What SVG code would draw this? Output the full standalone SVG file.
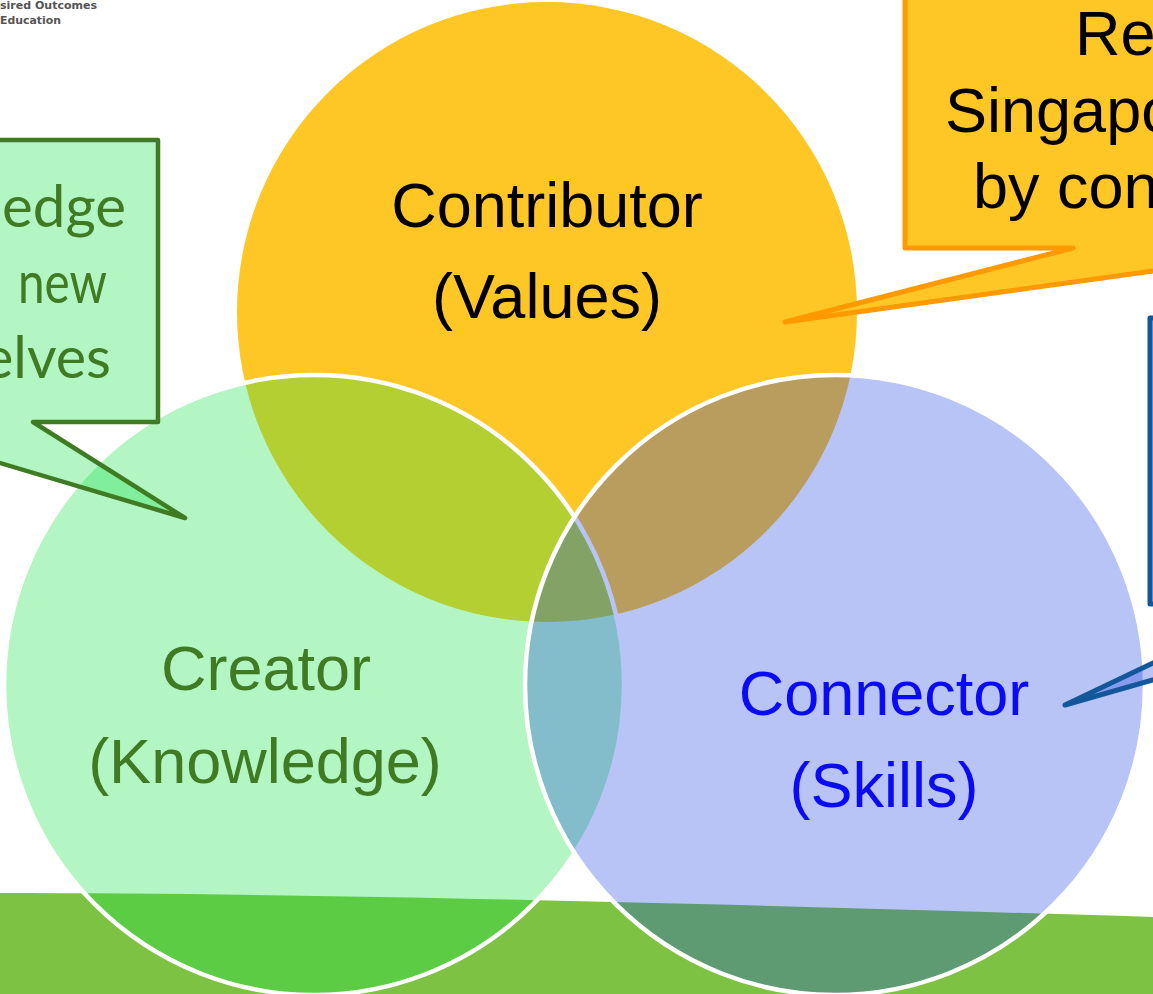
<svg xmlns="http://www.w3.org/2000/svg" width="1153" height="994" viewBox="0 0 1153 994">
  <style>
    .label { font-family: "Liberation Sans", Arial, sans-serif; font-size: 63px; text-anchor: middle; }
    .ring { stroke: #ffffff; stroke-width: 4.5; }
    .green-fill { fill: rgb(24,224,73); fill-opacity: 0.33; }
    .blue-fill { fill: rgb(26,65,222); fill-opacity: 0.31; }
    .yellow-fill { fill: #ffc726; }
    .callout-text-sans { font-family: "Liberation Sans", Arial, sans-serif; font-size: 63px; fill: #000000; }
    .callout-text-hum { font-family: Lato, "Open Sans", sans-serif; font-size: 58px; fill: #3e7b23; text-anchor: end; }
    .logo { font-family: "DejaVu Sans", Verdana, sans-serif; font-size: 11px; font-weight: bold; fill: #555555; }
  </style>

  <!-- page background -->
  <rect x="0" y="0" width="1153" height="994" fill="#ffffff"/>

  <!-- logo caption -->
  <g id="logo">
    <text class="logo" x="0" y="9" textLength="97" lengthAdjust="spacingAndGlyphs">sired Outcomes</text>
    <text class="logo" x="0" y="24" textLength="61" lengthAdjust="spacingAndGlyphs">Education</text>
  </g>

  <!-- Values circle (bottom layer) -->
  <g id="node-contributor">
    <circle class="yellow-fill" cx="547" cy="312" r="310"/>
  </g>

  <!-- ground band -->
  <path id="ground" d="M0,893 C300,893 700,903 1153,917 V994 H0 Z" fill="#7dc242"/>

  <!-- Knowledge circle -->
  <g id="node-creator">
    <circle class="green-fill ring" cx="314" cy="685" r="310"/>
  </g>

  <!-- Skills circle -->
  <g id="node-connector">
    <circle class="blue-fill ring" cx="835" cy="685" r="310"/>
  </g>

  <!-- circle labels -->
  <g id="labels">
    <text class="label" x="547" y="227" fill="#000000">Contributor</text>
    <text class="label" x="547" y="318" fill="#000000">(Values)</text>
    <text class="label" x="266" y="690" fill="#3e7b23">Creator</text>
    <text class="label" x="265" y="783" fill="#3e7b23">(Knowledge)</text>
    <text class="label" x="884" y="715" fill="#0a0af5">Connector</text>
    <text class="label" x="884" y="807" fill="#0a0af5">(Skills)</text>
  </g>

  <!-- callouts pointing into the circles -->
  <g id="connectors">
    <g id="callout-knowledge">
      <path class="green-fill" d="M-300,140 H158 V422 H33 L185,518 L-138,422 H-300 Z" stroke="#3e7b23" stroke-width="4.5" stroke-linejoin="round"/>
      <text class="callout-text-hum" x="126" y="227" textLength="124" lengthAdjust="spacingAndGlyphs">edge</text>
      <text class="callout-text-hum" x="107" y="303" textLength="89" lengthAdjust="spacingAndGlyphs">new</text>
      <text class="callout-text-hum" x="111" y="378" textLength="128" lengthAdjust="spacingAndGlyphs">elves</text>
    </g>
    <g id="callout-values">
      <path class="yellow-fill" d="M905,-50 H1500 V248 H1318 L785,322 L1073,248 H905 Z" stroke="#ff9900" stroke-width="5" stroke-linejoin="round"/>
      <text class="callout-text-sans" x="1075" y="55">Re</text>
      <text class="callout-text-sans" x="945" y="132">Singapo</text>
      <text class="callout-text-sans" x="973" y="208">by con</text>
    </g>
    <g id="callout-skills">
      <path class="blue-fill" d="M1150,318 H1700 V604 H1420 L1065,705 L1277,604 H1150 Z" stroke="#13579b" stroke-width="5" stroke-linejoin="round"/>
    </g>
  </g>
</svg>
